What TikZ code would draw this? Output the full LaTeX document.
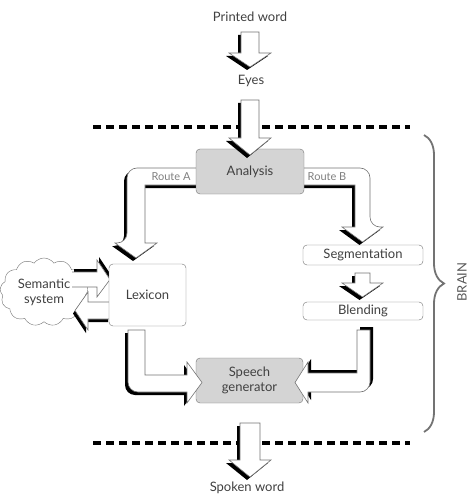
\documentclass[tikz,border=0pt]{standalone}
\usepackage{fontspec}
\setmainfont{Lato}
\usetikzlibrary{shapes.symbols,decorations.pathreplacing}

\tikzset{
  every node/.style={font=\fontsize{13}{15}\selectfont, text=black!75},
  stage/.style={draw=black!55, rounded corners=4pt, inner sep=0pt, fill=white},
  graystage/.style={stage, fill=black!17},
  arrowbody/.style={draw=black!55, line width=0.6pt, fill=white, line join=miter},
  arrowshadow/.style={fill=black},
  separator/.style={line width=3.4pt, dash pattern=on 8pt off 5pt},
  routelabel/.style={font=\fontsize{11}{13}\selectfont, text=black!50}
}
\newcommand{\shadowarrow}[2]{%
  \fill[arrowshadow, shift={#1}] #2;
  \filldraw[arrowbody] #2;}

\begin{document}
\begin{tikzpicture}[x=1pt, y=-1pt]
  \useasboundingbox (0,0) rectangle (474,497);
  % brain limits
  \draw[separator] (93,127) -- (410,127);
  \draw[separator] (93,443) -- (410,443);

  \node (print) at (250,17) {Printed word};
  \node (eyes) at (251,81) {Eyes};
  \node (spoken) at (247,488) {Spoken word};

  \shadowarrow{(-3,3)}{(241,32) -- (259,32) -- (259,53) -- (271,53) -- (250,67) -- (229,53) -- (241,53) -- cycle}
  \shadowarrow{(-3,3)}{(240,423) -- (260,423) -- (260,460) -- (271,460) -- (250,477) -- (229,460) -- (240,460) -- cycle}

  % the two routes
  \shadowarrow{(-3,3)}{(205,168) [rounded corners=10pt] -- (127,168) -- (127,243) [sharp corners] -- (115,243) -- (136,258) -- (157,243) -- (145,243) -- (145,185) -- (205,185) -- cycle}
  \shadowarrow{(-3,3)}{(295,168) [rounded corners=10pt] -- (370,168) -- (370,227) [sharp corners] -- (383,227) -- (362.5,242) -- (342,227) -- (355,227) -- (355,185) -- (295,185) -- cycle}

  \node[graystage, minimum width=108pt, minimum height=45pt] (ana) at (250,171.5) {Analysis};
  \shadowarrow{(-3,3)}{(241,100) -- (259,100) -- (259,138) -- (271,138) -- (250,155) -- (229,138) -- (241,138) -- cycle}

  \node[routelabel] (ra) at (171,177) {Route A};
  \node[routelabel] (rb) at (327,177) {Route B};

  % semantic system
  \node[cloud, draw=black!55, fill=white, cloud puffs=13, cloud puff arc=110, aspect=1.3,
        minimum width=88pt, minimum height=68pt, inner sep=0pt, align=center] (sem) at (44,292) {Semantic\\system};

  \fill[arrowshadow, shift={(2,-3)}] (72,272) -- (97,272) -- (97,260) -- (110,279.5) -- (97,297) -- (97,287) -- (72,287) -- cycle;
  \fill[white] (72,272) -- (97,272) -- (97,260) -- (110,279.5) -- (97,297) -- (97,287) -- (72,287) -- cycle;
  \draw[arrowbody] (72,272) -- (97,272) -- (97,260) -- (110,279.5) -- (97,297) -- (97,287) -- (72,287);
  \shadowarrow{(-2,3)}{(110,302) -- (88,302) -- (88,292) -- (75,310.5) -- (88,330) -- (88,319) -- (110,319) -- cycle}

  \node[stage, minimum width=77pt, minimum height=62pt] (lex) at (147.5,295) {Lexicon};
  \node[stage, minimum width=120pt, minimum height=20pt] (seg) at (363,255) {Segmentation};
  \node[stage, minimum width=120pt, minimum height=18pt] (blend) at (363,311) {Blending};

  \shadowarrow{(-3,3)}{(355,273) -- (370,273) -- (370,283) -- (383,283) -- (362.5,297) -- (342,283) -- (355,283) -- cycle}

  \node[graystage, minimum width=107pt, minimum height=45pt, align=center] (speech) at (249.5,380.5) {Speech\\generator};

  \shadowarrow{(-3,3)}{(145,330) -- (128,330) [rounded corners=10pt] -- (128,392) [sharp corners] -- (187,392) -- (187,403) -- (202,382.5) -- (187,362) -- (187,375) -- (145,375) -- cycle}
  \shadowarrow{(3,-3)}{(357,330) -- (370,330) [rounded corners=10pt] -- (370,392) [sharp corners] -- (308,392) -- (308,403) -- (295,382.5) -- (308,362) -- (308,373) -- (357,373) -- cycle}

  % brain
  \draw[black!55, line width=1.8pt, decorate, decoration={brace, amplitude=20pt}] (424,135) -- (424,432);
  \node[rotate=90, text=black!65] (brain) at (462,282) {BRAIN};
\end{tikzpicture}
\end{document}
